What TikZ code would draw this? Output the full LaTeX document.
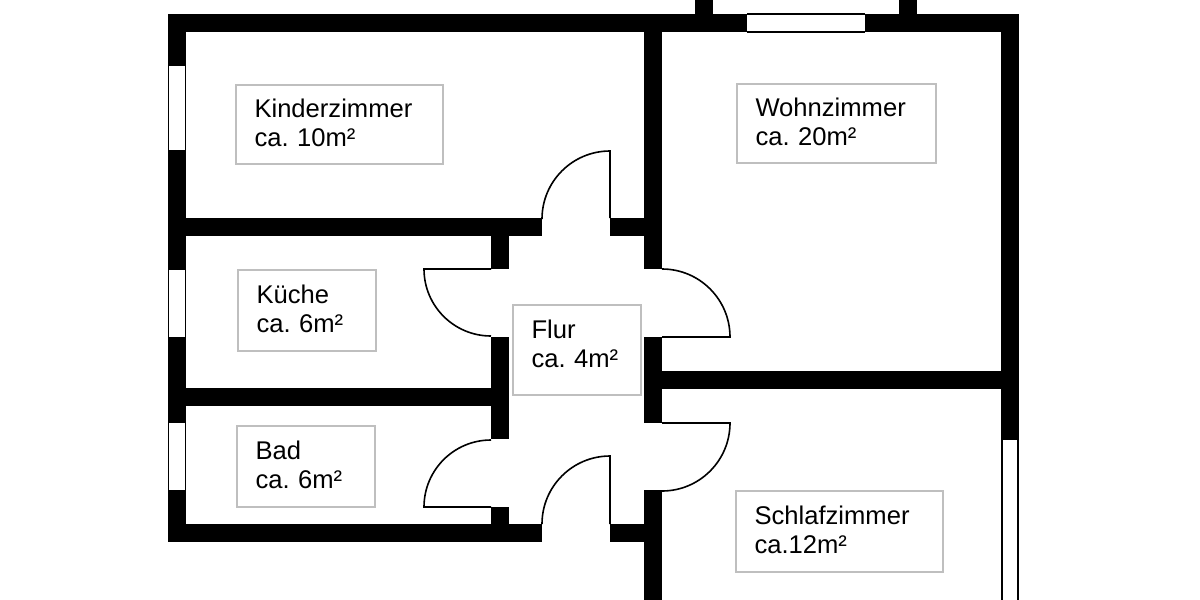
\documentclass[tikz,border=0pt]{standalone}
\usepackage{xcolor}
\usepackage{fontspec}
\setmainfont{Liberation Sans}
\usepackage{tikz}
\definecolor{labelgray}{RGB}{191,191,191}
\newcommand{\lift}[1]{\rule[-#1]{0pt}{0pt}}

\begin{document}
\frenchspacing
\begin{tikzpicture}[x=0.5pt, y=-0.5pt]
    % Styles
    \tikzstyle{wall} = [fill=black]
    \tikzstyle{thinline} = [draw=black, line width=0.8pt]
    \tikzstyle{roomlabel} = [rectangle, draw=labelgray, line width=1pt, inner xsep=9.25pt, inner ysep=0pt, outer sep=0pt, align=left, anchor=north west, font=\fontsize{12.8}{14.5}\selectfont]

    \useasboundingbox (0,0) rectangle (1200,600);

    % Outer walls - top
    \fill[wall] (168,14) rectangle (747,32);
    \fill[wall] (865,14) rectangle (1019,32);
    \fill[wall] (695,0) rectangle (713,14);
    \fill[wall] (899,0) rectangle (917,14);

    % Outer walls - left
    \fill[wall] (168,14) rectangle (186,66);
    \fill[wall] (168,150) rectangle (186,270);
    \fill[wall] (168,337) rectangle (186,423);
    \fill[wall] (168,490) rectangle (186,542);

    % Outer walls - right and bottom
    \fill[wall] (1001,14) rectangle (1019,440);
    \fill[wall] (168,524) rectangle (542,542);
    \fill[wall] (610,524) rectangle (644,542);

    % Inner walls
    \fill[wall] (644,32) rectangle (662,269);
    \fill[wall] (644,337) rectangle (662,423);
    \fill[wall] (644,490) rectangle (662,600);
    \fill[wall] (168,218) rectangle (542,236);
    \fill[wall] (610,218) rectangle (644,236);
    \fill[wall] (491,236) rectangle (509,269);
    \fill[wall] (491,337) rectangle (509,439);
    \fill[wall] (491,507) rectangle (509,524);
    \fill[wall] (186,388) rectangle (491,406);
    \fill[wall] (662,371) rectangle (1001,389);

    % Windows
    \draw[thinline] (747,14) -- (865,14) (747,32) -- (865,32);
    \draw[thinline] (168.5,66) -- (168.5,150) (185.5,66) -- (185.5,150);
    \draw[thinline] (168.5,270) -- (168.5,337) (185.5,270) -- (185.5,337);
    \draw[thinline] (168.5,423) -- (168.5,490) (185.5,423) -- (185.5,490);
    \draw[thinline] (1002,440) -- (1002,600) (1018,440) -- (1018,600);

    % Doors
    \draw[thinline] (610,218) -- (610,151) arc[start angle=270, end angle=180, radius=68];
    \draw[thinline] (491,269) -- (424,269) arc[start angle=180, end angle=90, radius=67];
    \draw[thinline] (662,337) -- (730,337) arc[start angle=0, end angle=-90, radius=68];
    \draw[thinline] (662,423) -- (730,423) arc[start angle=0, end angle=90, radius=68];
    \draw[thinline] (491,507) -- (424,507) arc[start angle=180, end angle=270, radius=67];
    \draw[thinline] (610,524) -- (610,456) arc[start angle=270, end angle=180, radius=68];

    % Room labels
    \node[roomlabel, text width=85pt, minimum height=39.5pt] (kinderzimmer) at (236,85) {Kinderzimmer\\ca. 10m²\lift{1.5pt}};
    \node[roomlabel, text width=81pt, minimum height=39.5pt] (wohnzimmer) at (737,84) {Wohnzimmer\\ca. 20m²\lift{1.5pt}};
    \node[roomlabel, text width=50.5pt, minimum height=40.5pt] (kueche) at (238,270) {Küche\\ca. 6m²\lift{2pt}};
    \node[roomlabel, text width=45.5pt, minimum height=45pt] (flur) at (513,305) {Flur\\ca. 4m²\lift{6pt}};
    \node[roomlabel, text width=50.5pt, minimum height=40.5pt] (bad) at (237,426) {Bad\\ca. 6m²\lift{2pt}};
    \node[roomlabel, text width=85pt, minimum height=40.5pt] (schlafzimmer) at (736,491) {Schlafzimmer\\ca.12m²\lift{2pt}};

\end{tikzpicture}
\end{document}
